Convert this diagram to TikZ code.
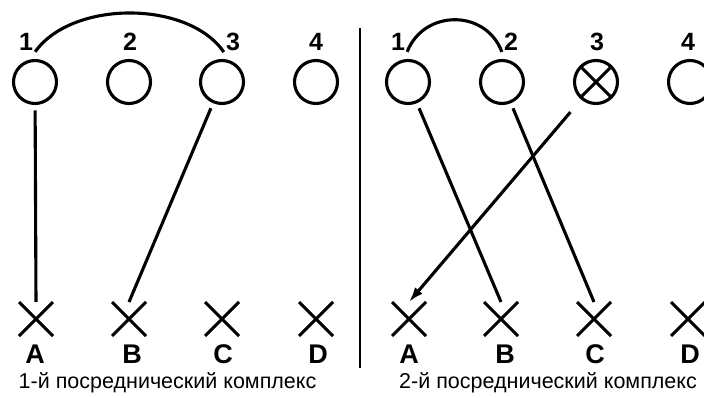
\documentclass[tikz,border=0pt]{standalone}
\usepackage{fontspec}
\setmainfont{Liberation Sans}
\usetikzlibrary{arrows.meta,shapes.misc}
\begin{document}
\begin{tikzpicture}[x=1pt,y=-1pt,
  ring/.style={circle,draw,line width=3.1pt,minimum size=43pt,inner sep=0pt,outer sep=7pt},
  xring/.style={ring,path picture={\draw[line width=3.1pt]
     (path picture bounding box.north west) -- (path picture bounding box.south east)
     (path picture bounding box.north east) -- (path picture bounding box.south west);}},
  xmark/.style={cross out,draw,line width=3.1pt,minimum size=28pt,inner sep=0pt,outer sep=3pt},
  numlabel/.style={inner sep=0pt,font=\fontsize{25}{25}\selectfont\bfseries},
  letterlabel/.style={inner sep=0pt,font=\fontsize{27}{27}\selectfont\bfseries},
  captext/.style={inner sep=0pt,anchor=base,font=\fontsize{21.5}{22}\selectfont},
  linkline/.style={line width=3.1pt},
  arcline/.style={line width=3.1pt}
]
\useasboundingbox (0,0) rectangle (704,398);
% left panel
\node[numlabel] (n1) at (26,42) {1};
\node[numlabel] (n2) at (130,42) {2};
\node[numlabel] (n3) at (233,42) {3};
\node[numlabel] (n4) at (316,42) {4};
\node[ring] (c1) at (35,82) {};
\node[ring] (c2) at (129,82) {};
\node[ring] (c3) at (222,82) {};
\node[ring] (c4) at (316,82) {};
\node[xmark] (xA) at (36,319) {};
\node[xmark] (xB) at (129,319) {};
\node[xmark] (xC) at (222,319) {};
\node[xmark] (xD) at (316,319) {};
\node[letterlabel] (lA) at (35,354) {A};
\node[letterlabel] (lB) at (132,354) {B};
\node[letterlabel] (lC) at (223,354) {C};
\node[letterlabel] (lD) at (318,354) {D};
\node[captext] (capL) at (167.5,388) {1-й посреднический комплекс};
\draw[arcline] ([xshift=2pt,yshift=-1pt]n1.south east) .. controls (72,0) and (188,0) .. ([xshift=-2pt,yshift=-1pt]n3.south west);
\draw[linkline] (c1) -- (xA.north);
\draw[linkline] (c3) -- (xB.north);
% divider
\coordinate (dTop) at (360,28);
\coordinate (dBot) at (360,368);
\draw[line width=1.4pt] (dTop) -- (dBot);
% right panel
\node[numlabel] (m1) at (398,42) {1};
\node[numlabel] (m2) at (511,42) {2};
\node[numlabel] (m3) at (597,42) {3};
\node[numlabel] (m4) at (688,42) {4};
\node[ring] (d1) at (408,82) {};
\node[ring] (d2) at (502,82) {};
\node[xring] (d3) at (596,82) {};
\node[ring] (d4) at (690,82) {};
\node[xmark] (yA) at (409,319) {};
\node[xmark] (yB) at (501,319) {};
\node[xmark] (yC) at (594,319) {};
\node[xmark] (yD) at (688,319) {};
\node[letterlabel] (kA) at (409,354) {A};
\node[letterlabel] (kB) at (505,354) {B};
\node[letterlabel] (kC) at (595,354) {C};
\node[letterlabel] (kD) at (690,354) {D};
\node[captext] (capR) at (548,388) {2-й посреднический комплекс};
\draw[arcline] ([xshift=2pt,yshift=-1pt]m1.south east) .. controls (424,9) and (486,9) .. ([xshift=-2pt,yshift=-1pt]m2.south west);
\draw[linkline] (d1) -- (yB.north);
\draw[linkline] (d2) -- (yC.north);
\draw[linkline,-{Latex[length=15pt,width=10pt]},shorten <=11pt] (d3) -- (yA.north);
\end{tikzpicture}
\end{document}
